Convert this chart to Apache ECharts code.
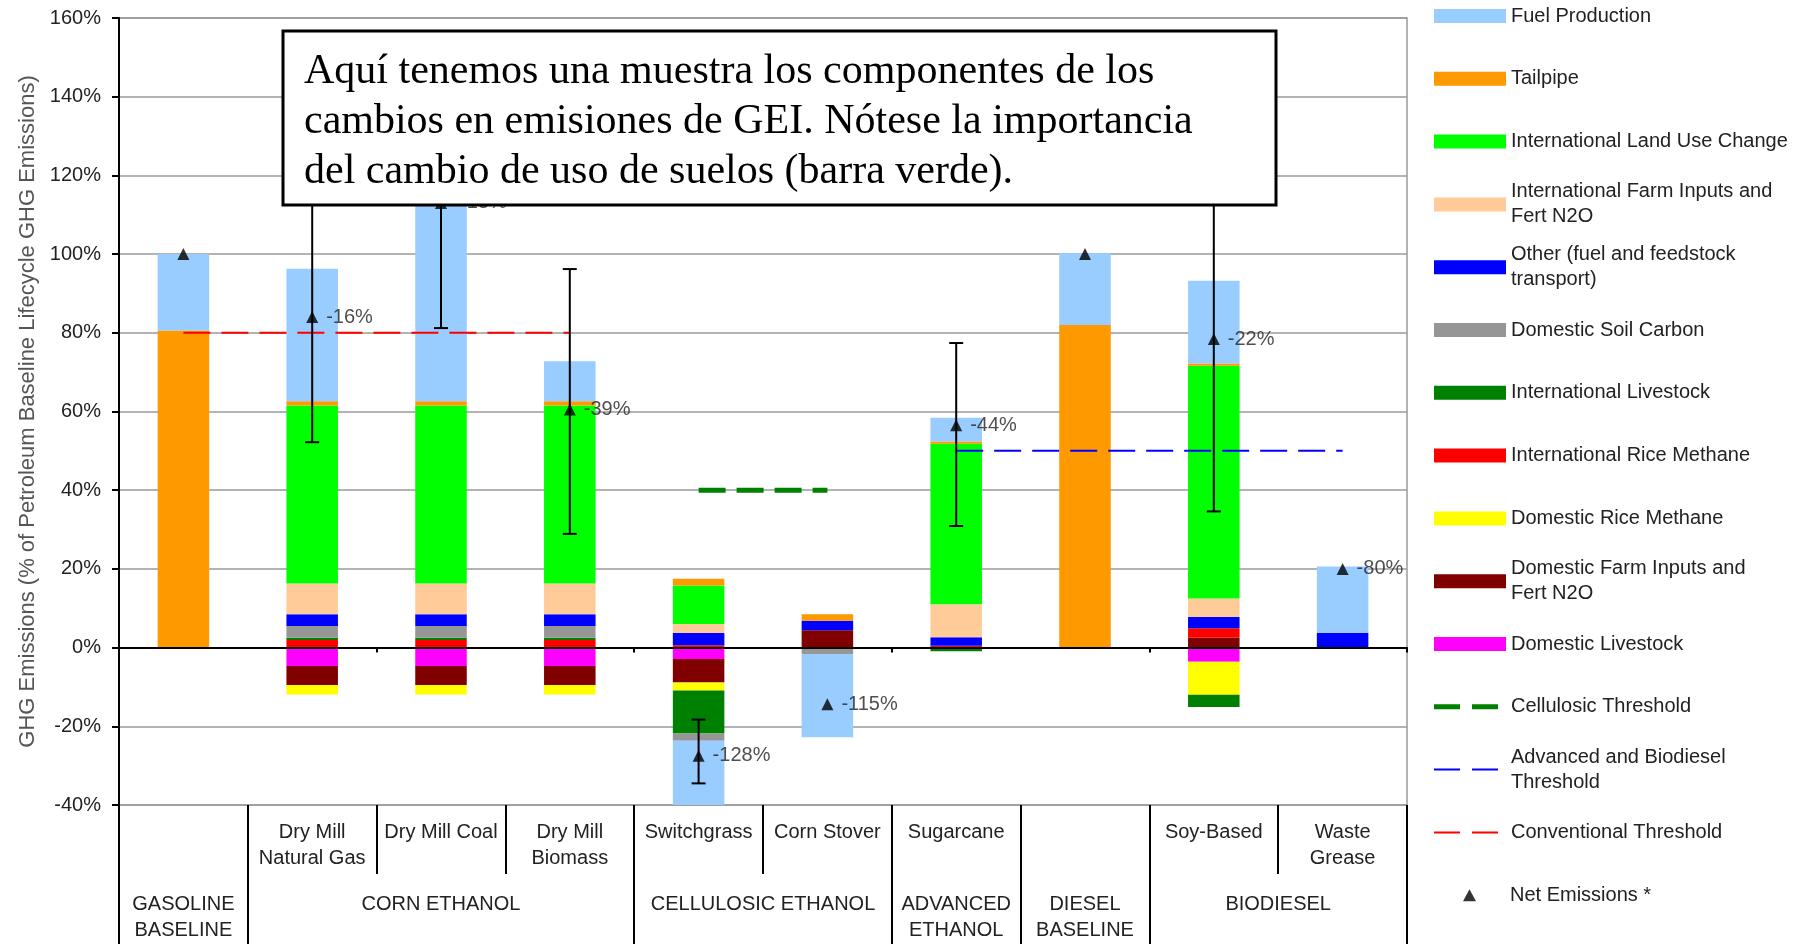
<!DOCTYPE html>
<html>
<head>
<meta charset="utf-8">
<script src="https://cdn.jsdelivr.net/npm/echarts@6/dist/echarts.min.js"></script>
<style>
  html, body { margin: 0; padding: 0; background: #fff; }
  #chart { width: 1810px; height: 944px; }
</style>
</head>
<body>
<div id="chart"></div>
<script>
// categories (one slot per fuel pathway)
const categories = ['Gasoline Baseline', 'Dry Mill Natural Gas', 'Dry Mill Coal', 'Dry Mill Biomass',
  'Switchgrass', 'Corn Stover', 'Sugarcane', 'Diesel Baseline', 'Soy-Based', 'Waste Grease'];
const subLabels = ['', 'Dry Mill\nNatural Gas', 'Dry Mill Coal', 'Dry Mill\nBiomass',
  'Switchgrass', 'Corn Stover', 'Sugarcane', '', 'Soy-Based', 'Waste\nGrease'];
const groupLabels = ['GASOLINE\nBASELINE', 'CORN ETHANOL', 'CELLULOSIC ETHANOL', 'ADVANCED\nETHANOL', 'DIESEL\nBASELINE', 'BIODIESEL'];
const groupCenters = [0.5, 2.5, 5, 6.5, 7.5, 9];
const groupEdges = [0, 1, 4, 6, 7, 8, 10];
const yTicks = [-40, -20, 0, 20, 40, 60, 80, 100, 120, 140, 160];

// emission components (% of petroleum baseline), stacking order from the axis outward
const domesticLivestock      = [0, -4.7, -4.7, -4.7, -2.9, 0, 0, 0, -3.6, 0];
const domesticFarmInputs     = [0, -4.8, -4.8, -4.8, -6.0, 4.4, 0, 0, 2.5, 0];
const internationalRice      = [0, 1.9, 1.9, 1.9, 0.6, 0, 0.5, 0, 2.4, 0];
const domesticRice           = [0, -2.4, -2.4, -2.4, -2.0, 0, 0, 0, -8.4, 0];
const internationalLivestock = [0, 0.6, 0.6, 0.6, -10.9, 0, -0.9, 0, -3.1, 0];
const domesticSoilCarbon     = [0, 3.0, 3.0, 3.0, -1.9, -1.6, 0, 0, 0, 0];
const otherTransport         = [0, 3.0, 3.0, 3.0, 3.1, 2.4, 2.1, 0, 2.9, 3.7];
const internationalFarm      = [0, 7.8, 7.8, 7.8, 2.3, 0, 8.4, 0, 4.7, 0];
const landUseChange          = [0, 45.2, 45.2, 45.2, 9.8, 0, 40.8, 0, 59.1, 0];
const tailpipe               = [80.6, 1.1, 1.1, 1.1, 1.7, 1.7, 0.6, 82.0, 0.6, 0];
const fuelProduction         = [19.4, 33.7, 62.4, 10.2, -17.4, -21.2, 6.0, 18.2, 21.0, 16.9];

// net emissions and their ranges
const netEmissions = [100, 84, 113, 60.5, -27.5, -14.4, 56.5, 100, 78.4, 20];
const netLabels = ['', '-16%', '+13%', '-39%', '-128%', '-115%', '-44%', '', '-22%', '-80%'];
const errorBars = [[1, 52.2, 116], [2, 81.2, 145], [3, 28.9, 96.2], [4, -34.5, -18.3], [6, 30.9, 77.4], [8, 34.6, 122]];

// thresholds
const conventionalThreshold = [80, 80, 80, 80, null, null, null, null, null, null];
const cellulosicThreshold = [null, null, null, null, 40, 40, null, null, null, null];
const advancedThreshold = [null, null, null, null, null, null, 50, 50, 50, 50];

const note = 'Aquí tenemos una muestra los componentes de los\ncambios en emisiones de GEI. Nótese la importancia\ndel cambio de uso de suelos (barra verde).';

const components = [
  { name: 'Domestic Livestock', data: domesticLivestock, color: '#FF00FF' },
  { name: 'Domestic Farm Inputs and Fert N2O', data: domesticFarmInputs, color: '#800000' },
  { name: 'International Rice Methane', data: internationalRice, color: '#FF0000' },
  { name: 'Domestic Rice Methane', data: domesticRice, color: '#FFFF00' },
  { name: 'International Livestock', data: internationalLivestock, color: '#008000' },
  { name: 'Domestic Soil Carbon', data: domesticSoilCarbon, color: '#969696' },
  { name: 'Other (fuel and feedstock transport)', data: otherTransport, color: '#0000FF' },
  { name: 'International Farm Inputs and Fert N2O', data: internationalFarm, color: '#FFCC99' },
  { name: 'International Land Use Change', data: landUseChange, color: '#00FF00' },
  { name: 'Tailpipe', data: tailpipe, color: '#FF9900' },
  { name: 'Fuel Production', data: fuelProduction, color: '#99CCFF' }
];

const thresholds = [
  { name: 'Conventional Threshold', data: conventionalThreshold, color: '#FF0000', width: 2 },
  { name: 'Cellulosic Threshold', data: cellulosicThreshold, color: '#008000', width: 5 },
  { name: 'Advanced and Biodiesel Threshold', data: advancedThreshold, color: '#0000FF', width: 2 }
];

const legendItems = [
  ['Fuel Production', 'Fuel Production'],
  ['Tailpipe', 'Tailpipe'],
  ['International Land Use Change', 'International Land Use Change'],
  ['International Farm Inputs and Fert N2O', 'International Farm Inputs and\nFert N2O'],
  ['Other (fuel and feedstock transport)', 'Other (fuel and feedstock\ntransport)'],
  ['Domestic Soil Carbon', 'Domestic Soil Carbon'],
  ['International Livestock', 'International Livestock'],
  ['International Rice Methane', 'International Rice Methane'],
  ['Domestic Rice Methane', 'Domestic Rice Methane'],
  ['Domestic Farm Inputs and Fert N2O', 'Domestic Farm Inputs and\nFert N2O'],
  ['Domestic Livestock', 'Domestic Livestock'],
  ['Cellulosic Threshold', 'Cellulosic Threshold'],
  ['Advanced and Biodiesel Threshold', 'Advanced and Biodiesel\nThreshold'],
  ['Conventional Threshold', 'Conventional Threshold'],
  ['Net Emissions *', 'Net Emissions *']
];

const chart = echarts.init(document.getElementById('chart'));
const FONT = 'Liberation Sans, Arial, sans-serif';
const DASH_ICON = 'path://M0,0H26V1H0Z M38,0H64V1H38Z';

const legends = legendItems.map(([name, text], i) => {
  const twoLines = text.indexOf('\n') >= 0;
  const center = 16 + i * 62.8;
  const thr = thresholds.find(t => t.name === name);
  const isNet = name === 'Net Emissions *';
  let left = 1434, itemWidth = 72, itemHeight = 14, icon = 'rect', padLeft = 0;
  if (thr) {
    itemWidth = 64; itemHeight = thr.width; icon = DASH_ICON; padLeft = 8;
  } else if (isNet) {
    left = 1463; itemWidth = 13; itemHeight = 12; icon = 'triangle'; padLeft = 29;
  }
  const lh = 25;
  return {
    data: [name],
    left: left,
    top: center - (twoLines ? lh * 1.5 : Math.max(lh, itemHeight) / 2),
    orient: 'vertical',
    padding: 0,
    itemWidth: itemWidth,
    itemHeight: itemHeight,
    icon: icon,
    symbolKeepAspect: false,
    selectedMode: false,
    formatter: () => text,
    textStyle: {
      fontFamily: FONT, fontSize: 20, color: '#222', lineHeight: lh,
      padding: [twoLines ? lh : 0, 0, 0, padLeft]
    }
  };
});

const barSeries = components.map(c => ({
  name: c.name,
  type: 'bar',
  stack: 'total',
  barWidth: '40%',
  itemStyle: { color: c.color },
  data: c.data,
  z: 2
}));

const lineSeries = thresholds.map(l => ({
  name: l.name,
  type: 'line',
  data: l.data,
  symbol: 'none',
  color: l.color,
  itemStyle: { color: l.color },
  lineStyle: { color: l.color, width: l.width, type: [27, 11] },
  z: 4
}));

const option = {
  animation: false,
  textStyle: { fontFamily: FONT },
  grid: {
    left: 119, right: 403, top: 18, bottom: 139,
    show: true, borderColor: '#9a9a9a', borderWidth: 1.5
  },
  legend: legends,
  xAxis: [
    {
      type: 'category',
      data: categories,
      axisLine: { onZero: true, lineStyle: { color: '#000', width: 2 } },
      axisTick: { show: true, length: 5, lineStyle: { color: '#000', width: 2 } },
      axisLabel: { show: false },
      splitLine: { show: false },
      z: 5
    },
    {
      type: 'category',
      data: categories,
      position: 'bottom',
      axisLine: { show: false, onZero: false },
      axisTick: { show: true, length: 69, lineStyle: { color: '#000', width: 2 } },
      axisLabel: {
        interval: 0, margin: 14, verticalAlign: 'top',
        fontSize: 20, lineHeight: 26, color: '#222', fontFamily: FONT,
        formatter: (v, i) => subLabels[i]
      },
      splitLine: { show: false }
    },
    {
      type: 'value',
      min: 0, max: 10,
      position: 'bottom',
      axisLine: { show: false, onZero: false },
      axisTick: { show: true, customValues: groupEdges, length: 140, lineStyle: { color: '#000', width: 2 } },
      axisLabel: {
        customValues: groupCenters, margin: 86, verticalAlign: 'top',
        fontSize: 20, lineHeight: 26, color: '#222', fontFamily: FONT,
        formatter: v => groupLabels[groupCenters.indexOf(v)]
      },
      splitLine: { show: false }
    }
  ],
  yAxis: {
    type: 'value',
    min: yTicks[0], max: yTicks[yTicks.length - 1], interval: 20,
    name: 'GHG Emissions (% of Petroleum Baseline Lifecycle GHG Emissions)',
    nameLocation: 'middle',
    nameGap: 78,
    nameTextStyle: { fontSize: 22, color: '#555', fontFamily: FONT },
    axisLine: { show: true, lineStyle: { color: '#000', width: 2 } },
    axisTick: { show: true, length: 7, lineStyle: { color: '#000', width: 2 } },
    axisLabel: { formatter: '{value}%', fontSize: 20, color: '#222', margin: 18, fontFamily: FONT },
    splitLine: { lineStyle: { color: '#9a9a9a', width: 1.5 } }
  },
  series: [
    ...barSeries,
    ...lineSeries,
    {
      name: 'Error Range',
      type: 'custom',
      z: 6,
      encode: { x: 0, y: [1, 2] },
      data: errorBars,
      renderItem: (params, api) => {
        const top = api.coord([api.value(0), api.value(2)]);
        const bot = api.coord([api.value(0), api.value(1)]);
        const w = 7;
        const st = { stroke: '#000', lineWidth: 2 };
        return {
          type: 'group',
          children: [
            { type: 'line', shape: { x1: top[0], y1: top[1], x2: bot[0], y2: bot[1] }, style: st },
            { type: 'line', shape: { x1: top[0] - w, y1: top[1], x2: top[0] + w, y2: top[1] }, style: st },
            { type: 'line', shape: { x1: bot[0] - w, y1: bot[1], x2: bot[0] + w, y2: bot[1] }, style: st }
          ]
        };
      }
    },
    {
      name: 'Net Emissions *',
      type: 'scatter',
      symbol: 'triangle',
      symbolSize: 12,
      color: '#000',
      z: 7,
      data: netEmissions,
      label: {
        show: true, position: 'right', distance: 8,
        formatter: p => netLabels[p.dataIndex],
        fontSize: 20, color: '#222', fontFamily: FONT
      }
    }
  ],
  graphic: [
    {
      type: 'group',
      z: 100,
      children: [
        {
          type: 'rect',
          shape: { x: 283, y: 31, width: 993, height: 174 },
          style: { fill: '#fff', stroke: '#000', lineWidth: 3 },
          z: 100
        },
        {
          type: 'text',
          x: 304, y: 47,
          z: 101,
          style: {
            text: note,
            font: '42px "Liberation Serif", "Times New Roman", serif',
            lineHeight: 50,
            fill: '#000'
          }
        }
      ]
    }
  ]
};

chart.setOption(option);
window.addEventListener('resize', () => chart.resize());
</script>
</body>
</html>
